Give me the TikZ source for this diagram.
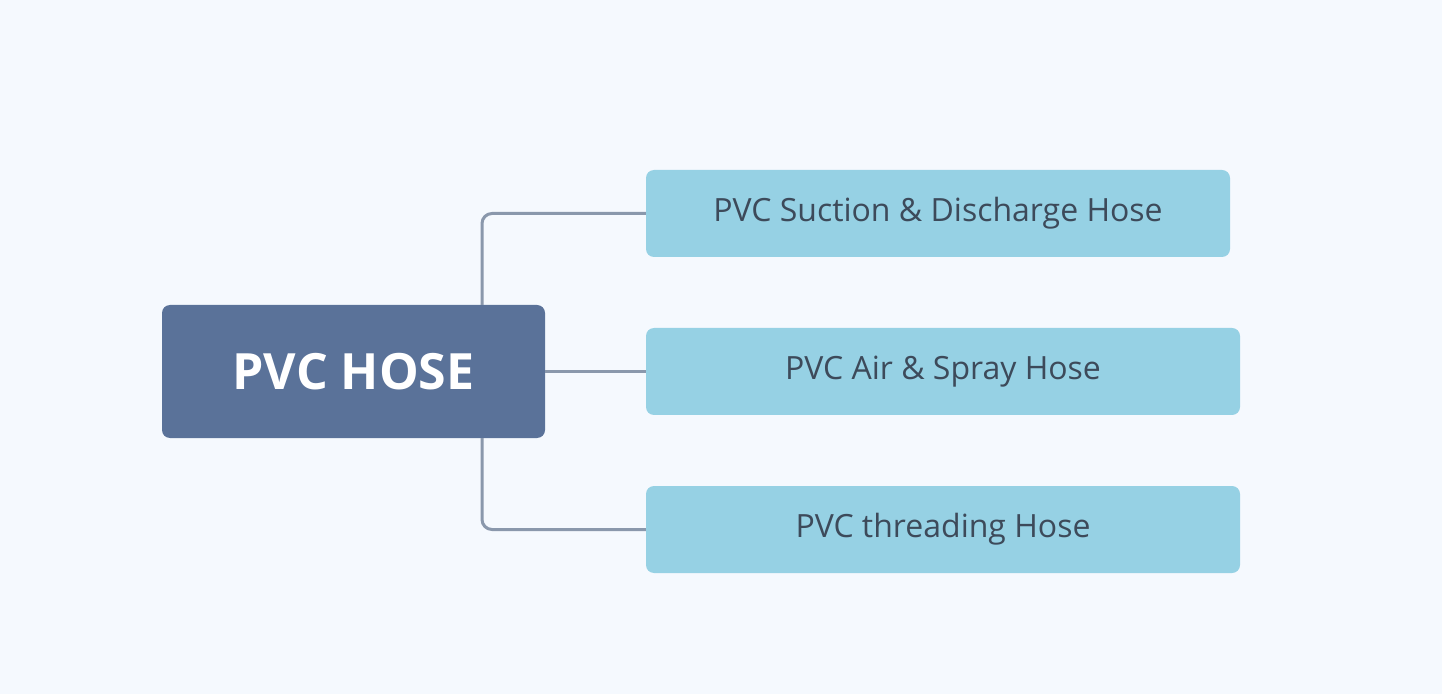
\documentclass[tikz,border=0pt]{standalone}
\usepackage{fontspec}
\setmainfont{Open Sans}
\definecolor{bg}{HTML}{F5F9FE}
\definecolor{rootc}{HTML}{5A7299}
\definecolor{childc}{HTML}{96D1E4}
\definecolor{txt}{HTML}{3D4A5A}
\definecolor{linec}{HTML}{8A98AC}
\begin{document}
\begin{tikzpicture}[x=1pt,y=1pt,
  root/.style={fill=rootc,rounded corners=8pt,minimum width=383pt,minimum height=133pt,text=white,font=\fontsize{50}{60}\selectfont\bfseries,inner sep=0pt},
  child/.style={fill=childc,rounded corners=8pt,minimum height=87pt,text=txt,font=\fontsize{32}{38}\selectfont,inner sep=0pt},
  conn/.style={draw=linec,line width=3pt,rounded corners=10pt}]
\fill[bg] (0,0) rectangle (1442,694);
\useasboundingbox (0,0) rectangle (1442,694);
\node[root] (r) at (353.5,322.5) {PVC HOSE};
\node[child,minimum width=584pt] (a) at (938,480.5) {PVC Suction \& Discharge Hose};
\node[child,minimum width=594pt] (b) at (943,322.5) {PVC Air \& Spray Hose};
\node[child,minimum width=594pt] (c) at (943,164.5) {PVC threading Hose};
\draw[conn] (r.north -| 482,0) |- (a.west);
\draw[conn] (r.south -| 482,0) |- (c.west);
\draw[conn] (r.east) -- (b.west);
\end{tikzpicture}
\end{document}
